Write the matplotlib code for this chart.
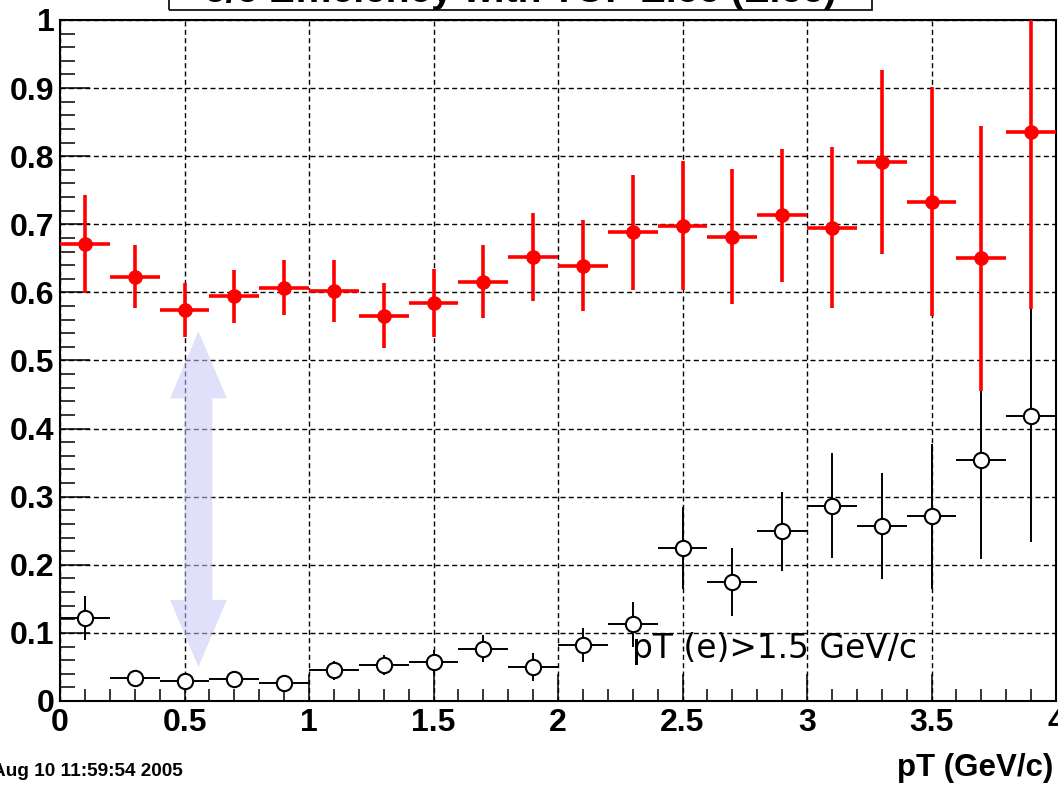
import matplotlib
matplotlib.use("Agg")
import matplotlib.pyplot as plt
from matplotlib.patches import Polygon, Rectangle
from matplotlib.ticker import MultipleLocator

# ---------------- data ----------------
pt_centers = [0.1, 0.3, 0.5, 0.7, 0.9, 1.1, 1.3, 1.5, 1.7, 1.9,
              2.1, 2.3, 2.5, 2.7, 2.9, 3.1, 3.3, 3.5, 3.7, 3.9]
pt_halfwidth = [0.1] * 20

eff_red = [0.671, 0.623, 0.574, 0.594, 0.607, 0.602, 0.566, 0.585, 0.616, 0.652,
           0.639, 0.688, 0.698, 0.682, 0.713, 0.695, 0.792, 0.733, 0.650, 0.835]
err_red = [0.072, 0.046, 0.040, 0.039, 0.040, 0.046, 0.048, 0.050, 0.054, 0.064,
           0.067, 0.085, 0.095, 0.099, 0.098, 0.118, 0.135, 0.168, 0.195, 0.260]

eff_black = [0.122, 0.034, 0.029, 0.032, 0.026, 0.045, 0.053, 0.057, 0.077, 0.050,
             0.082, 0.113, 0.225, 0.175, 0.249, 0.287, 0.257, 0.271, 0.354, 0.418]
err_black = [0.032, 0.008, 0.012, 0.009, 0.010, 0.014, 0.015, 0.018, 0.020, 0.020,
             0.025, 0.033, 0.060, 0.050, 0.058, 0.077, 0.078, 0.107, 0.146, 0.185]

x_ticks = [0, 0.5, 1, 1.5, 2, 2.5, 3, 3.5, 4]
x_ticklabels = ["0", "0.5", "1", "1.5", "2", "2.5", "3", "3.5", "4"]
y_ticks = [0, 0.1, 0.2, 0.3, 0.4, 0.5, 0.6, 0.7, 0.8, 0.9, 1.0]
y_ticklabels = ["0", "0.1", "0.2", "0.3", "0.4", "0.5", "0.6", "0.7", "0.8", "0.9", "1"]

title_text = "e/e Efficiency with TOF Elec (Elec)"
xlabel_text = "pT (GeV/c)"
cut_text = "pT (e)>1.5 GeV/c"
date_text = "Aug 10 11:59:54 2005"

# arrow annotation (data coords)
arrow_x = 0.556
arrow_y_top = 0.543
arrow_y_bot = 0.050

# ---------------- figure ----------------
W, H = 1058, 786
fig = plt.figure(figsize=(W / 100, H / 100), dpi=100)
ax = fig.add_axes([60 / W, 85 / H, 996 / W, 681 / H])

ax.set_xlim(0, 4)
ax.set_ylim(0, 1)

bold = dict(family="Liberation Sans", weight="bold")

ax.set_xticks(x_ticks)
ax.set_xticklabels(x_ticklabels, fontsize=23, **bold)
ax.set_yticks(y_ticks)
ax.set_yticklabels(y_ticklabels, fontsize=23, **bold)
ax.xaxis.set_minor_locator(MultipleLocator(0.1))
ax.yaxis.set_minor_locator(MultipleLocator(0.02))
ax.tick_params(axis="x", which="major", direction="in", length=19.5, width=1.1, pad=5,
               top=False)
ax.tick_params(axis="x", which="minor", direction="in", length=9, width=1.1, top=False)
ax.tick_params(axis="y", which="major", direction="in", length=21.5, width=1.1, pad=4,
               right=False)
ax.tick_params(axis="y", which="minor", direction="in", length=10.8, width=1.1, right=False)

for s in ax.spines.values():
    s.set_linewidth(1.5)
    s.set_color("black")

ax.grid(True, which="major", color="black", linestyle=(0, (3.6, 2.4)), linewidth=1.0)
ax.set_axisbelow(True)

# arrow
hw = 0.114   # head half-width (x data)
sw = 0.056   # shaft half-width
hl = 0.0985  # head length (y data)
pts = [(arrow_x, arrow_y_top), (arrow_x + hw, arrow_y_top - hl),
       (arrow_x + sw, arrow_y_top - hl), (arrow_x + sw, arrow_y_bot + hl),
       (arrow_x + hw, arrow_y_bot + hl), (arrow_x, arrow_y_bot),
       (arrow_x - hw, arrow_y_bot + hl), (arrow_x - sw, arrow_y_bot + hl),
       (arrow_x - sw, arrow_y_top - hl), (arrow_x - hw, arrow_y_top - hl)]
ax.add_patch(Polygon(pts, closed=True, facecolor=(0.78, 0.78, 0.97), alpha=0.55,
                     edgecolor="none", zorder=2))

# black (open markers)
ax.errorbar(pt_centers, eff_black, yerr=err_black, xerr=pt_halfwidth,
            fmt="o", color="black", ecolor="black", elinewidth=1.4, capsize=0,
            markersize=11, markerfacecolor="white", markeredgecolor="black",
            markeredgewidth=1.5, zorder=3)

# red (filled markers)
ax.errorbar(pt_centers, eff_red, yerr=err_red, xerr=pt_halfwidth,
            fmt="o", color="red", ecolor="red", elinewidth=2.6, capsize=0,
            markersize=9.5, markerfacecolor="red", markeredgecolor="red", zorder=4)

# cut text
ax.text(2.297, 0.063, cut_text, fontsize=23.7, family="DejaVu Sans",
        ha="left", va="baseline", zorder=5)

# x label
fig.text(1053 / W, 1 - 768 / H, xlabel_text, fontsize=22.5, ha="right", va="center", **bold)

# date stamp
fig.text(-8 / W, 1 - 772 / H, date_text, fontsize=13.7, ha="left", va="center", **bold)

# title box (mostly cut off at top)
fig.add_artist(Rectangle((169 / W, 1 - 10 / H), 703 / W, 0.2, transform=fig.transFigure,
                         fill=False, edgecolor="black", linewidth=1.2, clip_on=False))
fig.text(520 / W, 1 - 2 / H, title_text, fontsize=28, ha="center", va="baseline", **bold)

fig.savefig("out.png", dpi=100)
